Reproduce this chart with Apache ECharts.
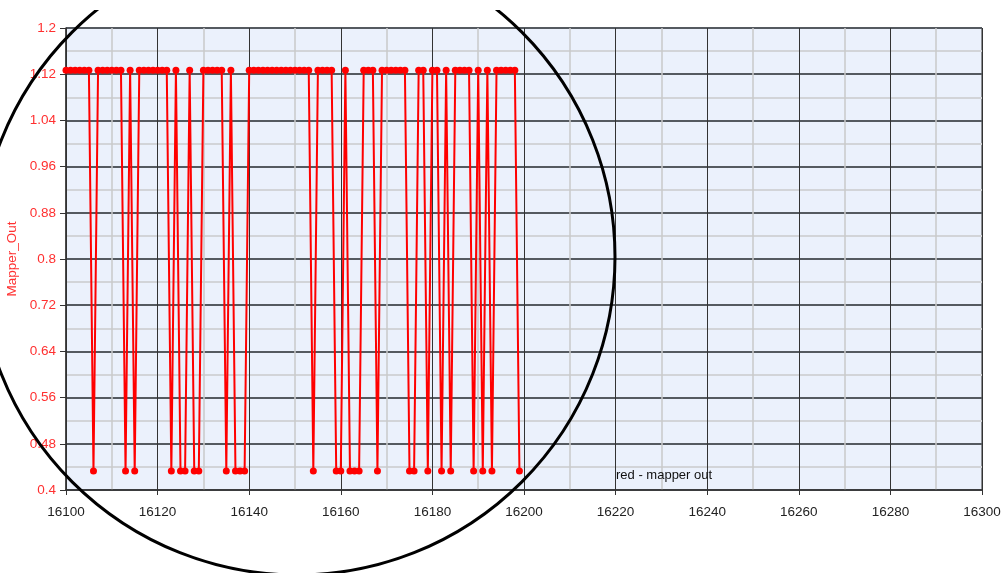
<!DOCTYPE html>
<html>
<head>
<meta charset="utf-8">
<script src="https://cdn.jsdelivr.net/npm/echarts@6/dist/echarts.min.js"></script>
<style>
html,body{margin:0;padding:0;background:#fff;}
#chart{width:1002px;height:573px;}
</style>
</head>
<body>
<div id="chart"></div>
<script>
// Data
const xValues = [
  16100,16101,16102,16103,16104,16105,16106,16107,16108,16109,
  16110,16111,16112,16113,16114,16115,16116,16117,16118,16119,
  16120,16121,16122,16123,16124,16125,16126,16127,16128,16129,
  16130,16131,16132,16133,16134,16135,16136,16137,16138,16139,
  16140,16141,16142,16143,16144,16145,16146,16147,16148,16149,
  16150,16151,16152,16153,16154,16155,16156,16157,16158,16159,
  16160,16161,16162,16163,16164,16165,16166,16167,16168,16169,
  16170,16171,16172,16173,16174,16175,16176,16177,16178,16179,
  16180,16181,16182,16183,16184,16185,16186,16187,16188,16189,
  16190,16191,16192,16193,16194,16195,16196,16197,16198,16199
];
const mapperOut = [
  1.127,1.127,1.127,1.127,1.127,1.127,0.433,1.127,1.127,1.127,
  1.127,1.127,1.127,0.433,1.127,0.433,1.127,1.127,1.127,1.127,
  1.127,1.127,1.127,0.433,1.127,0.433,0.433,1.127,0.433,0.433,
  1.127,1.127,1.127,1.127,1.127,0.433,1.127,0.433,0.433,0.433,
  1.127,1.127,1.127,1.127,1.127,1.127,1.127,1.127,1.127,1.127,
  1.127,1.127,1.127,1.127,0.433,1.127,1.127,1.127,1.127,0.433,
  0.433,1.127,0.433,0.433,0.433,1.127,1.127,1.127,0.433,1.127,
  1.127,1.127,1.127,1.127,1.127,0.433,0.433,1.127,1.127,0.433,
  1.127,1.127,0.433,1.127,0.433,1.127,1.127,1.127,1.127,0.433,
  1.127,0.433,1.127,0.433,1.127,1.127,1.127,1.127,1.127,0.433
];
const yTickLabels = ['0.4','0.48','0.56','0.64','0.72','0.8','0.88','0.96','1.04','1.12','1.2'];
const xTickLabels = ['16100','16120','16140','16160','16180','16200','16220','16240','16260','16280','16300'];
const seriesName = 'Mapper_Out';
const noteText = 'red - mapper out';

const points = xValues.map((x, i) => [x, mapperOut[i]]);
const FONT = 'Liberation Sans, Arial, sans-serif';

const chart = echarts.init(document.getElementById('chart'), null, {renderer: 'canvas'});
chart.setOption({
  animation: false,
  backgroundColor: '#ffffff',
  grid: {
    left: 66, right: 20, top: 28, bottom: 83,
    containLabel: false, outerBoundsMode: 'none',
    show: true, backgroundColor: '#EBF1FC', borderColor: '#2a2a2a', borderWidth: 1
  },
  xAxis: {
    type: 'value', min: 16100, max: 16300, interval: 20,
    axisLine: {show: true, onZero: false, lineStyle: {color: '#333', width: 1.5}},
    axisTick: {show: true, length: 5, lineStyle: {color: '#333'}},
    axisLabel: {
      color: '#222', fontSize: 13.5, fontFamily: FONT, margin: 15,
      formatter: (v) => { const s = String(Math.round(v)); return xTickLabels.indexOf(s) >= 0 ? s : ''; }
    },
    splitLine: {show: true, lineStyle: {color: '#333333', width: 1}},
    minorTick: {show: false, splitNumber: 2},
    minorSplitLine: {show: true, lineStyle: {color: '#c9c9c9', width: 1.5}}
  },
  yAxis: {
    type: 'value', min: 0.4, max: 1.2, interval: 0.08,
    name: seriesName, nameLocation: 'middle', nameRotate: 90, nameGap: 42,
    nameTextStyle: {color: '#FF3030', fontSize: 13.5, fontFamily: FONT},
    axisLine: {show: true, lineStyle: {color: '#333', width: 1.5}},
    axisTick: {show: true, length: 6, lineStyle: {color: '#333'}},
    axisLabel: {
      color: '#FF3030', fontSize: 13.5, fontFamily: FONT, margin: 10,
      formatter: (v) => { const s = String(Math.round(v * 100) / 100); return yTickLabels.indexOf(s) >= 0 ? s : ''; }
    },
    splitLine: {show: true, lineStyle: {color: '#555a60', width: 2}},
    minorTick: {show: false, splitNumber: 2},
    minorSplitLine: {show: true, lineStyle: {color: '#d2d4d8', width: 2}}
  },
  series: [{
    name: seriesName,
    type: 'line',
    data: points,
    symbol: 'circle',
    symbolSize: 7,
    showAllSymbol: true,
    lineStyle: {color: '#FF0000', width: 2},
    itemStyle: {color: '#FF0000'},
    z: 5
  }],
  graphic: [
    {
      type: 'circle', z: 100,
      shape: {cx: 297, cy: 257, r: 318},
      style: {fill: 'none', stroke: '#000', lineWidth: 3}
    },
    {
      type: 'rect', z: 101,
      shape: {x: 0, y: 0, width: 1002, height: 10},
      style: {fill: '#ffffff'}
    },
    {
      type: 'text', z: 50, left: 616, top: 469,
      style: {text: noteText, fill: '#111', font: '13px ' + FONT}
    }
  ]
});
</script>
</body>
</html>
